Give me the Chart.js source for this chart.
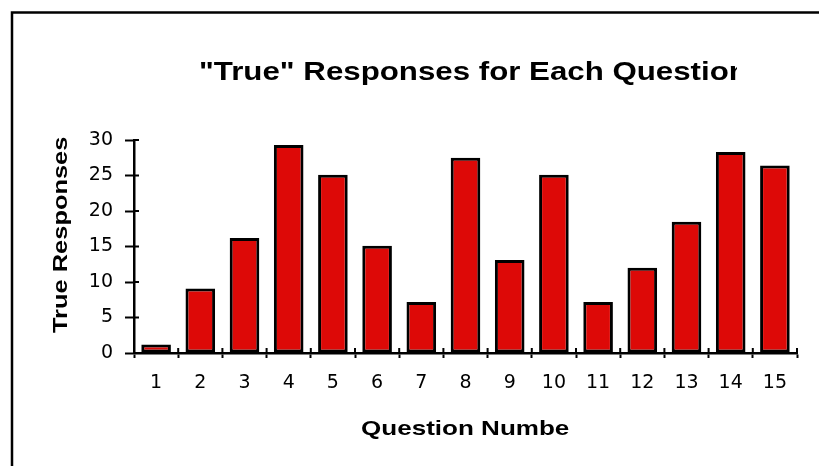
<!DOCTYPE html>
<html>
<head>
<meta charset="utf-8">
<script src="https://cdn.jsdelivr.net/npm/chart.js@4.4.1/dist/chart.umd.min.js"></script>
<style>
  html, body { margin: 0; padding: 0; background: #fff; }
</style>
</head>
<body>
<canvas id="responsesChart" width="819" height="466"></canvas>
<script>
const questionLabels = ["1", "2", "3", "4", "5", "6", "7", "8", "9", "10", "11", "12", "13", "14", "15"];
const trueResponses = [1.2, 9.1, 16.2, 29.3, 25.1, 15.1, 7.2, 27.5, 13.1, 25.1, 7.2, 12, 18.5, 28.3, 26.4];
const yTicks = [0, 5, 10, 15, 20, 25, 30];
const chartTitle = '"True" Responses for Each Question';
const xTitle = "Question Number";
const yTitle = "True Responses";

const titleFont = '"Liberation Sans", Arial, sans-serif';

// draw text stretched along its direction, optionally clipped like the original text boxes
function drawStretched(c, text, x, y, size, sx, angle, clip) {
  c.save();
  if (clip) {
    c.beginPath();
    c.rect(clip[0], clip[1], clip[2], clip[3]);
    c.clip();
  }
  c.translate(x, y);
  c.rotate(angle);
  c.scale(sx, 1);
  c.font = "bold " + size + "px " + titleFont;
  c.fillStyle = "#000";
  c.textAlign = "left";
  c.textBaseline = "alphabetic";
  c.fillText(text, 0, 0);
  c.restore();
}

const frameAndTitles = {
  id: "frameAndTitles",
  beforeDraw(chart) {
    const c = chart.ctx;
    c.save();
    c.fillStyle = "#fff";
    c.fillRect(0, 0, chart.width, chart.height);
    c.strokeStyle = "#000";
    c.lineWidth = 2.5;
    c.beginPath();
    c.moveTo(12, chart.height + 5);
    c.lineTo(12, 12.5);
    c.lineTo(chart.width + 5, 12.5);
    c.stroke();
    c.restore();
  },
  afterDraw(chart) {
    const c = chart.ctx;
    const xs = chart.scales.x, ys = chart.scales.y;
    const area = chart.chartArea;

    // the tick marks cross the axis lines a little
    c.save();
    c.strokeStyle = "#000";
    c.lineWidth = 2;
    c.beginPath();
    yTicks.forEach(v => {
      const py = ys.getPixelForValue(v);
      c.moveTo(area.left, py);
      c.lineTo(area.left + 5, py);
    });
    for (let i = 0; i <= questionLabels.length; i++) {
      const px = xs.getPixelForValue(i - 0.5);
      c.moveTo(px, area.bottom);
      c.lineTo(px, area.bottom - 5);
    }
    c.stroke();
    c.restore();

    drawStretched(c, chartTitle, 199, 80, 25, 1.25, 0, [0, 0, 737, 120]);
    drawStretched(c, xTitle, 361, 435, 21, 1.24, 0, [0, 400, 570, 60]);
    drawStretched(c, yTitle, 67, 333, 20.5, 1.24, -Math.PI / 2, null);
  }
};

new Chart(document.getElementById("responsesChart").getContext("2d"), {
  type: "bar",
  data: {
    labels: questionLabels,
    datasets: [
      {
        label: yTitle,
        data: trueResponses,
        backgroundColor: "#dd0907",
        borderColor: "#000",
        borderWidth: 3,
        borderSkipped: false,
        barPercentage: 0.67,
        categoryPercentage: 1,
      },
    ],
  },
  options: {
    responsive: false,
    animation: false,
    layout: { padding: { top: 140, right: 22, left: 0, bottom: 0 } },
    plugins: {
      legend: { display: false },
      tooltip: { enabled: false },
      title: { display: false },
    },
    scales: {
      x: {
        afterFit(s) { s.height = 113; },
        grid: { offset: true, drawOnChartArea: false, tickLength: 5, tickWidth: 2, tickColor: "#000" },
        border: { color: "#000", width: 2.5 },
        ticks: { color: "#000", padding: 14, maxRotation: 0, font: { family: "DejaVu Sans", size: 19 } },
      },
      y: {
        min: yTicks[0],
        max: yTicks[yTicks.length - 1],
        afterFit(s) { s.width = 134; },
        grid: { drawOnChartArea: false, tickLength: 9, tickWidth: 2, tickColor: "#000" },
        border: { color: "#000", width: 2.5 },
        ticks: { color: "#000", padding: 12, stepSize: yTicks[1] - yTicks[0], font: { family: "DejaVu Sans", size: 19 } },
      },
    },
  },
  plugins: [frameAndTitles],
});
</script>
</body>
</html>
